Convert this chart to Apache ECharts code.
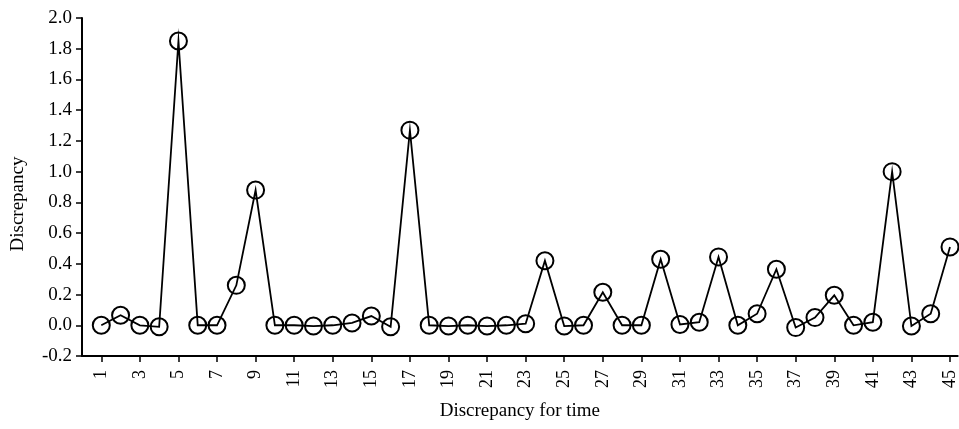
<!DOCTYPE html>
<html>
<head>
<meta charset="utf-8">
<script src="https://cdn.jsdelivr.net/npm/echarts@6/dist/echarts.min.js"></script>
<style>
  html, body { margin: 0; padding: 0; background: #fff; }
  #main { width: 959px; height: 429px; }
</style>
</head>
<body>
<div id="main"></div>
<script>
// time index 1..45
const times = [];
for (let i = 1; i <= 45; i++) times.push(i);

// discrepancy
const discrepancy = [
  0.0, 0.065, 0.0, -0.01, 1.85, 0.0, 0.0, 0.26, 0.88, 0.0,
  0.0, -0.005, 0.0, 0.015, 0.06, -0.01, 1.27, 0.0, -0.005, 0.0,
  -0.005, 0.0, 0.01, 0.42, -0.005, 0.0, 0.215, 0.0, 0.0, 0.43,
  0.005, 0.02, 0.445, 0.0, 0.075, 0.365, -0.015, 0.05, 0.195, 0.0,
  0.02, 1.0, -0.005, 0.075, 0.51
];

// only the odd times get a tick and label
const xTicks = [1, 3, 5, 7, 9, 11, 13, 15, 17, 19, 21, 23, 25, 27, 29, 31, 33, 35, 37, 39, 41, 43, 45];

const points = times.map((t, i) => [t, discrepancy[i]]);

const font = '"Liberation Serif", "Times New Roman", serif';

const chart = echarts.init(document.getElementById('main'), null, { renderer: 'canvas' });

chart.setOption({
  backgroundColor: '#fff',
  animation: false,
  grid: { left: 82, right: 0, top: 18, bottom: 73 },
  xAxis: {
    type: 'value',
    min: 0,
    max: 45.4,
    name: 'Discrepancy for time',
    nameLocation: 'middle',
    nameGap: 46,
    nameTextStyle: { fontFamily: font, fontSize: 19, color: '#000' },
    splitLine: { show: false },
    axisLine: { onZero: false, lineStyle: { color: '#000', width: 2 } },
    axisTick: { length: 6, lineStyle: { color: '#000', width: 1.5 }, customValues: xTicks },
    axisLabel: {
      customValues: xTicks,
      rotate: 90,
      margin: 14,
      fontFamily: font,
      fontSize: 18,
      color: '#000'
    }
  },
  yAxis: {
    type: 'value',
    min: -0.2,
    max: 2.0,
    interval: 0.2,
    name: 'Discrepancy',
    nameLocation: 'middle',
    nameGap: 54,
    nameTextStyle: { fontFamily: font, fontSize: 19, color: '#000', padding: [0, 34, 0, 0] },
    splitLine: { show: false },
    axisLine: { show: true, lineStyle: { color: '#000', width: 2 } },
    axisTick: { show: true, length: 6, lineStyle: { color: '#000', width: 1.5 } },
    axisLabel: {
      margin: 10,
      fontFamily: font,
      fontSize: 19,
      color: '#000',
      formatter: (v) => v.toFixed(1)
    }
  },
  series: [
    {
      type: 'line',
      data: points,
      symbol: 'circle',
      symbolSize: 17,
      itemStyle: { color: 'rgba(0,0,0,0)', borderColor: '#000', borderWidth: 2 },
      lineStyle: { color: '#000', width: 1.8, join: 'miter', miterLimit: 20 },
      emphasis: { disabled: true }
    }
  ]
});
</script>
</body>
</html>
